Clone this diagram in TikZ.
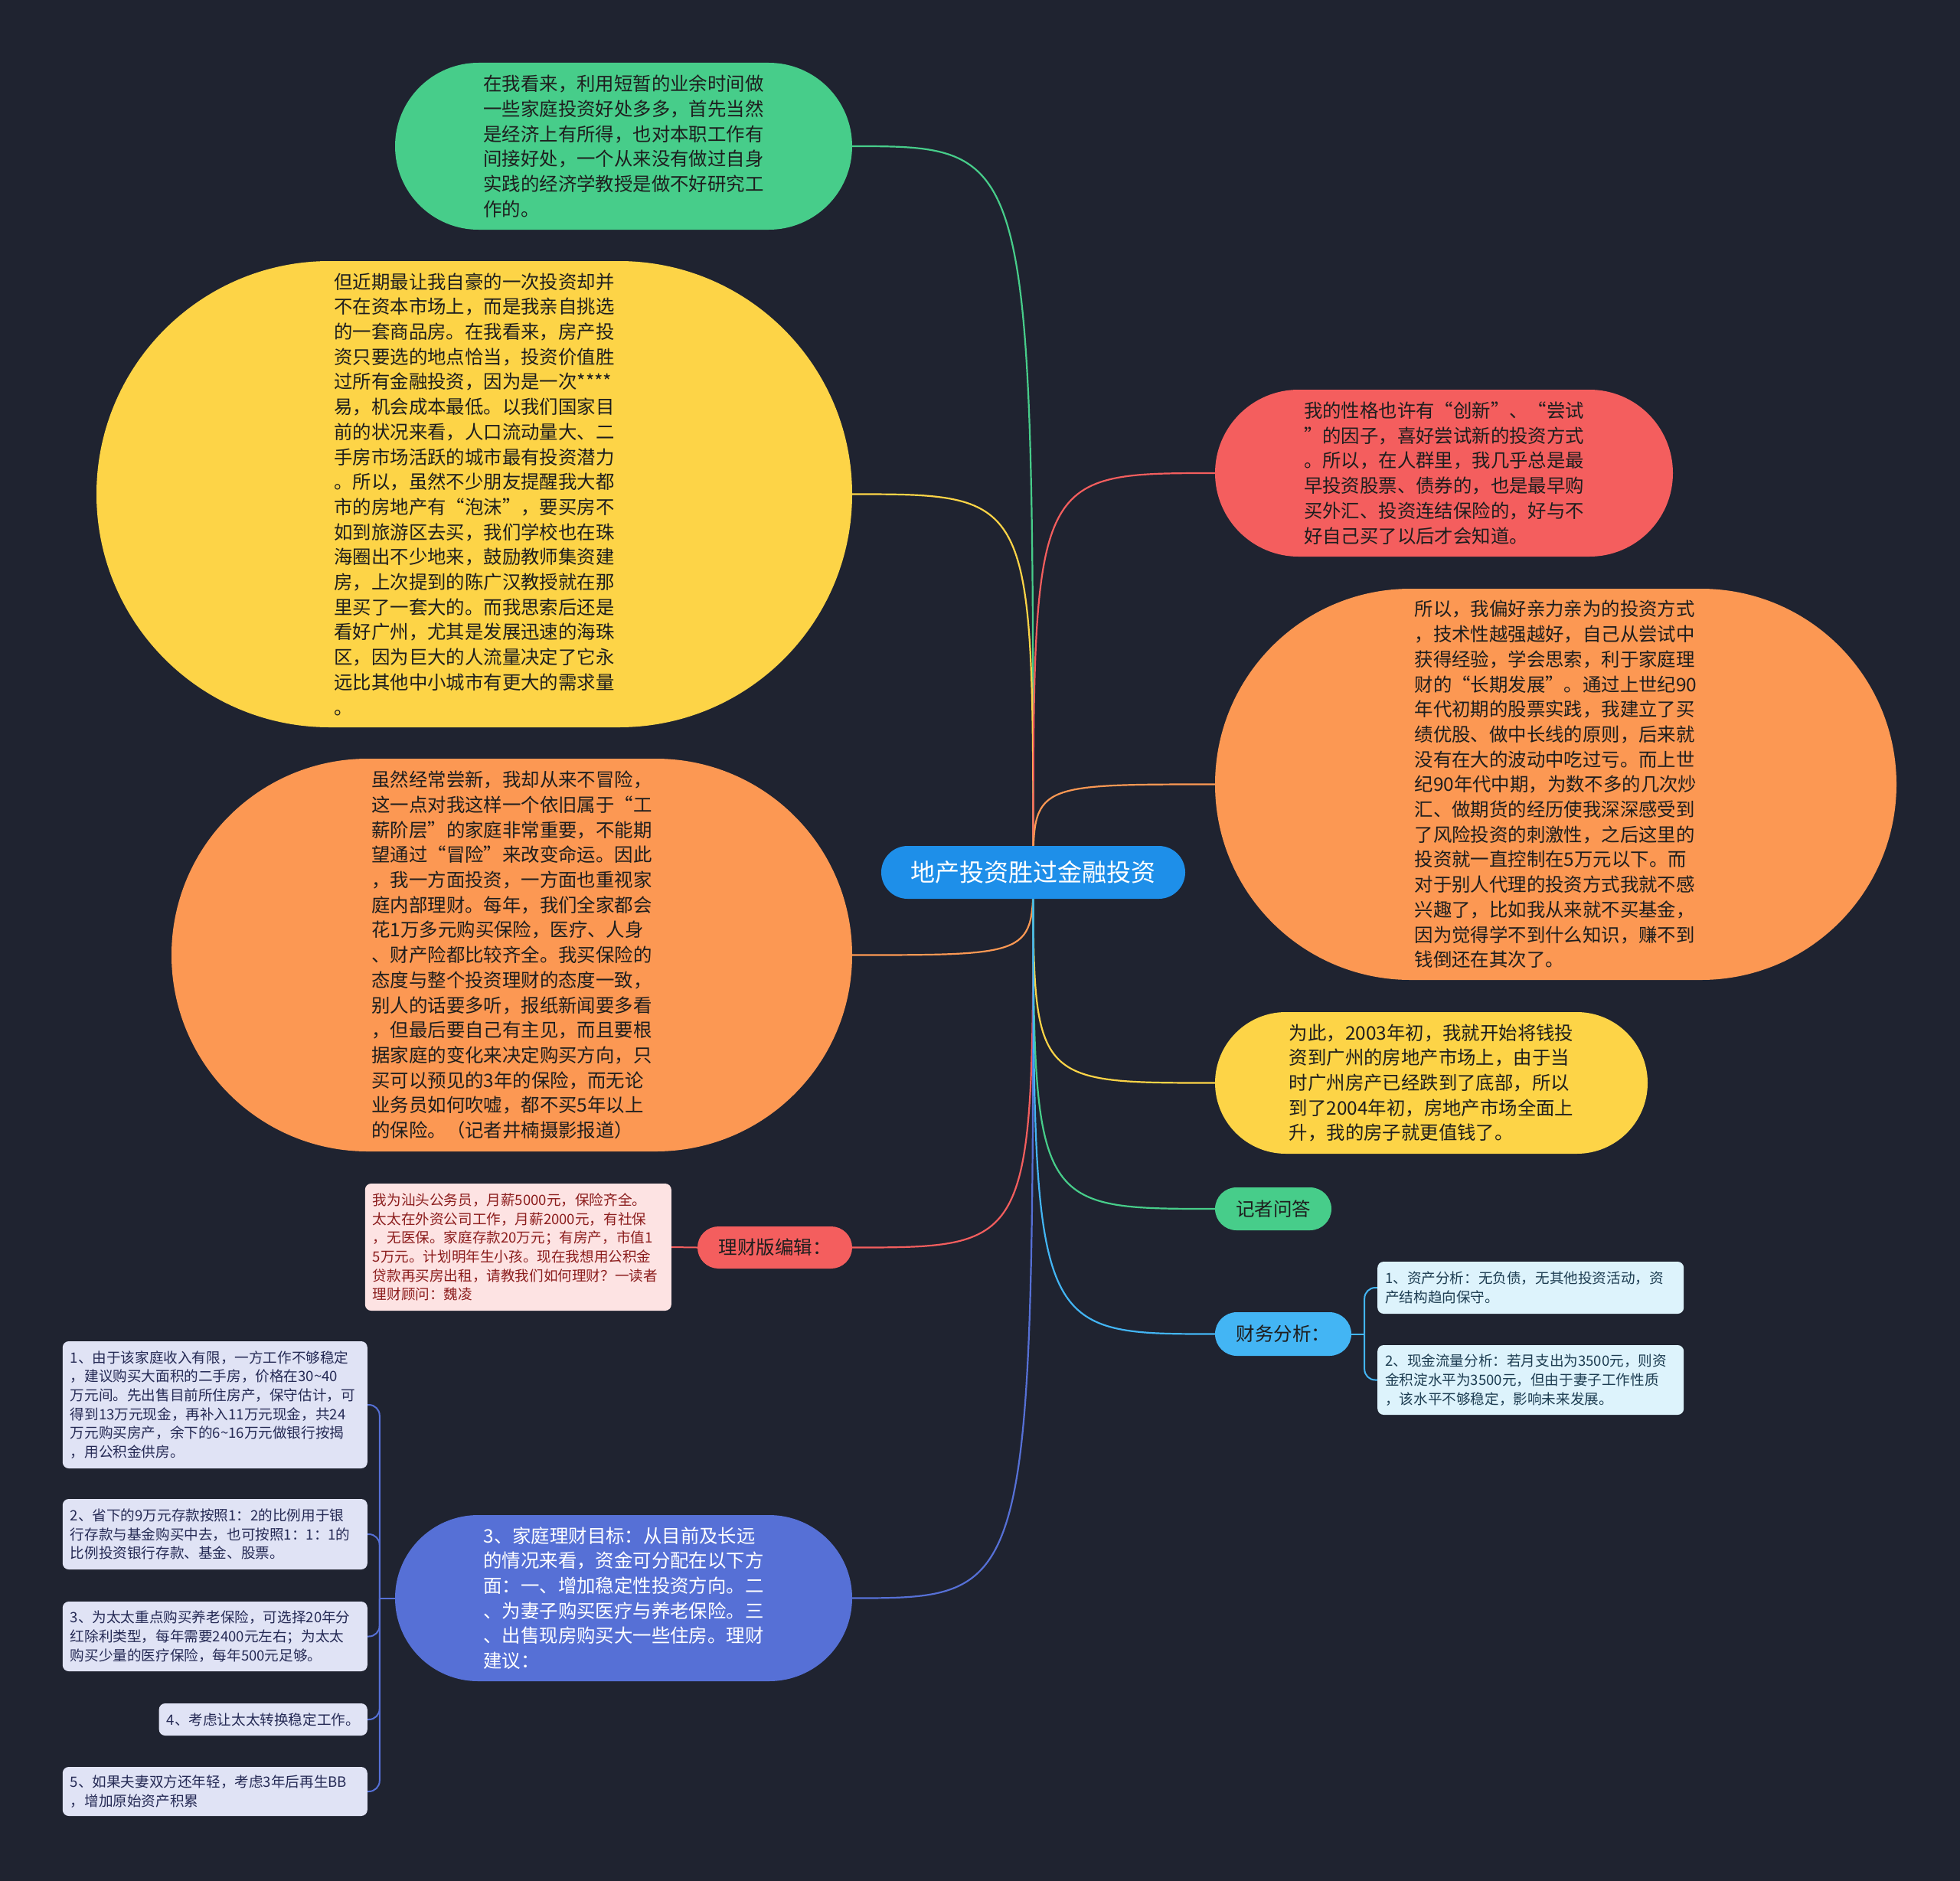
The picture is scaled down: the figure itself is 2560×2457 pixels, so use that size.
\documentclass[tikz,border=0pt]{standalone}
\usepackage{fontspec}
\setmainfont{Noto Sans CJK SC}
\usetikzlibrary{shapes.misc}
\pgfdeclarelayer{bg}
\pgfsetlayers{bg,main}
\definecolor{bgc}{HTML}{1F2330}
\definecolor{cblue}{HTML}{1E8FE9}
\definecolor{cgreen}{HTML}{47CD8A}
\definecolor{cyellow}{HTML}{FDD447}
\definecolor{corange}{HTML}{FC9853}
\definecolor{cred}{HTML}{F45E5E}
\definecolor{cindigo}{HTML}{5670D6}
\definecolor{csky}{HTML}{43B5F4}
\definecolor{txtdark}{HTML}{1E1E1E}
\definecolor{pinkfill}{HTML}{FDE3E3}
\definecolor{pinktxt}{HTML}{8C1D1D}
\definecolor{lavfill}{HTML}{E0E3F5}
\definecolor{lavtxt}{HTML}{252A55}
\definecolor{skyfill}{HTML}{DDF3FC}
\definecolor{skytxt}{HTML}{1D3D52}
\begin{document}
\begin{tikzpicture}[x=1pt,y=-1pt,
  pill/.style={rounded rectangle, inner sep=0pt, align=left, text=txtdark, font=\fontsize{24.4}{32.7}\selectfont},
  smallpill/.style={rounded rectangle, inner sep=0pt, text=txtdark, font=\fontsize{24.5}{30}\selectfont},
  box/.style={rectangle, rounded corners=8pt, inner xsep=10pt, inner ysep=0pt, align=left, font=\fontsize{18.6}{24.7}\selectfont},
  link/.style={line width=2.2pt},
  blink/.style={line width=2pt, rounded corners=14pt},
]
\useasboundingbox (0,0) rectangle (2560,2457);

% central
\node[rounded rectangle, inner sep=0pt, fill=cblue, text=white, minimum width=397pt, minimum height=69pt, font=\fontsize{32}{36}\selectfont] (ctr) at (1349.5,1139.5) {地产投资胜过金融投资};

% left side
\node[pill, fill=cgreen, minimum width=597pt, minimum height=218pt] (top) at (814.5,191) {在我看来，利用短暂的业余时间做\\一些家庭投资好处多多，首先当然\\是经济上有所得，也对本职工作有\\间接好处，一个从来没有做过自身\\实践的经济学教授是做不好研究工\\作的。};

\node[pill, fill=cyellow, minimum width=987pt, minimum height=609pt] (yl) at (619.5,645.5) {但近期最让我自豪的一次投资却并\\不在资本市场上，而是我亲自挑选\\的一套商品房。在我看来，房产投\\资只要选的地点恰当，投资价值胜\\过所有金融投资，因为是一次****\\易，机会成本最低。以我们国家目\\前的状况来看，人口流动量大、二\\手房市场活跃的城市最有投资潜力\\。所以，虽然不少朋友提醒我大都\\市的房地产有“泡沫”，要买房不\\如到旅游区去买，我们学校也在珠\\海圈出不少地来，鼓励教师集资建\\房，上次提到的陈广汉教授就在那\\里买了一套大的。而我思索后还是\\看好广州，尤其是发展迅速的海珠\\区，因为巨大的人流量决定了它永\\远比其他中小城市有更大的需求量\\。};

\node[pill, fill=corange, minimum width=889pt, minimum height=513pt] (ol) at (668.5,1247.5) {虽然经常尝新，我却从来不冒险，\\这一点对我这样一个依旧属于“工\\薪阶层”的家庭非常重要，不能期\\望通过“冒险”来改变命运。因此\\，我一方面投资，一方面也重视家\\庭内部理财。每年，我们全家都会\\花1万多元购买保险，医疗、人身\\、财产险都比较齐全。我买保险的\\态度与整个投资理财的态度一致，\\别人的话要多听，报纸新闻要多看\\，但最后要自己有主见，而且要根\\据家庭的变化来决定购买方向，只\\买可以预见的3年的保险，而无论\\业务员如何吹嘘，都不买5年以上\\的保险。（记者井楠摄影报道）};

\node[smallpill, fill=cred, minimum width=202pt, minimum height=55pt] (edit) at (1012,1629.5) {理财版编辑：};

\node[box, fill=pinkfill, text=pinktxt, text width=380pt, minimum height=166pt, anchor=east] (pink) at (877,1629) {我为汕头公务员，月薪5000元，保险齐全。\\太太在外资公司工作，月薪2000元，有社保\\，无医保。家庭存款20万元；有房产，市值1\\5万元。计划明年生小孩。现在我想用公积金\\贷款再买房出租，请教我们如何理财？一读者\\理财顾问：魏凌};

\node[pill, fill=cindigo, text=white, minimum width=597pt, minimum height=217pt] (goal) at (814.5,2087.5) {3、家庭理财目标：从目前及长远\\的情况来看，资金可分配在以下方\\面：一、增加稳定性投资方向。二\\、为妻子购买医疗与养老保险。三\\、出售现房购买大一些住房。理财\\建议：};

\node[box, fill=lavfill, text=lavtxt, text width=378pt, minimum height=166pt, anchor=east] (s1) at (480,1835) {1、由于该家庭收入有限，一方工作不够稳定\\，建议购买大面积的二手房，价格在30\textasciitilde40\\万元间。先出售目前所住房产，保守估计，可\\得到13万元现金，再补入11万元现金，共24\\万元购买房产，余下的6\textasciitilde16万元做银行按揭\\，用公积金供房。};
\node[box, fill=lavfill, text=lavtxt, text width=378pt, minimum height=92pt, anchor=east] (s2) at (480,2004) {2、省下的9万元存款按照1：2的比例用于银\\行存款与基金购买中去，也可按照1：1：1的\\比例投资银行存款、基金、股票。};
\node[box, fill=lavfill, text=lavtxt, text width=378pt, minimum height=91pt, anchor=east] (s3) at (480,2137.5) {3、为太太重点购买养老保险，可选择20年分\\红除利类型，每年需要2400元左右；为太太\\购买少量的医疗保险，每年500元足够。};
\node[box, fill=lavfill, text=lavtxt, minimum height=42pt, anchor=east] (s4) at (480,2246) {4、考虑让太太转换稳定工作。};
\node[box, fill=lavfill, text=lavtxt, text width=378pt, minimum height=64pt, anchor=east] (s5) at (480,2340) {5、如果夫妻双方还年轻，考虑3年后再生BB\\，增加原始资产积累};

% right side
\node[pill, fill=cred, minimum width=598pt, minimum height=218pt] (rr) at (1886,618) {我的性格也许有“创新”、“尝试\\”的因子，喜好尝试新的投资方式\\。所以，在人群里，我几乎总是最\\早投资股票、债券的，也是最早购\\买外汇、投资连结保险的，好与不\\好自己买了以后才会知道。};

\node[pill, fill=corange, minimum width=890pt, minimum height=511pt] (or) at (2032,1024.5) {所以，我偏好亲力亲为的投资方式\\，技术性越强越好，自己从尝试中\\获得经验，学会思索，利于家庭理\\财的“长期发展”。通过上世纪90\\年代初期的股票实践，我建立了买\\绩优股、做中长线的原则，后来就\\没有在大的波动中吃过亏。而上世\\纪90年代中期，为数不多的几次炒\\汇、做期货的经历使我深深感受到\\了风险投资的刺激性，之后这里的\\投资就一直控制在5万元以下。而\\对于别人代理的投资方式我就不感\\兴趣了，比如我从来就不买基金，\\因为觉得学不到什么知识，赚不到\\钱倒还在其次了。};

\node[pill, fill=cyellow, minimum width=565pt, minimum height=185pt] (yr) at (1869.5,1414.5) {为此，2003年初，我就开始将钱投\\资到广州的房地产市场上，由于当\\时广州房产已经跌到了底部，所以\\到了2004年初，房地产市场全面上\\升，我的房子就更值钱了。};

\node[smallpill, fill=cgreen, minimum width=152pt, minimum height=56pt] (qa) at (1663,1579) {记者问答};

\node[smallpill, fill=csky, minimum width=178pt, minimum height=57pt] (fin) at (1676,1742.5) {财务分析：};

\node[box, fill=skyfill, text=skytxt, text width=380pt, minimum height=68pt, anchor=west] (f1) at (1799,1682) {1、资产分析：无负债，无其他投资活动，资\\产结构趋向保守。};
\node[box, fill=skyfill, text=skytxt, text width=380pt, minimum height=91pt, anchor=west] (f2) at (1799,1802.5) {2、现金流量分析：若月支出为3500元，则资\\金积淀水平为3500元，但由于妻子工作性质\\，该水平不够稳定，影响未来发展。};

\begin{pgfonlayer}{bg}
\fill[bgc] (0,0) rectangle (2560,2457);
\draw[link, cgreen] (ctr.center) .. controls (ctr.center |- top.east) .. (top.east);
\draw[link, cyellow] (ctr.center) .. controls (ctr.center |- yl.east) .. (yl.east);
\draw[link, corange] (ctr.center) .. controls (ctr.center |- ol.east) .. (ol.east);
\draw[link, cred] (ctr.center) .. controls (ctr.center |- edit.east) .. (edit.east);
\draw[link, cindigo] (ctr.center) .. controls (ctr.center |- goal.east) .. (goal.east);
\draw[link, cred] (ctr.center) .. controls (ctr.center |- rr.west) .. (rr.west);
\draw[link, corange] (ctr.center) .. controls (ctr.center |- or.west) .. (or.west);
\draw[link, cyellow] (ctr.center) .. controls (ctr.center |- yr.west) .. (yr.west);
\draw[link, cgreen] (ctr.center) .. controls (ctr.center |- qa.west) .. (qa.west);
\draw[link, csky] (ctr.center) .. controls (ctr.center |- fin.west) .. (fin.west);
% editor to letter
\draw[line width=2pt, cred] (edit.west) -- (pink.east);
% goal bracket
\draw[line width=2pt, cindigo] (goal.west) -- ([xshift=-20pt]goal.west) coordinate (jg);
\foreach \s in {s1,s2,s3,s4,s5} \draw[blink, cindigo] (jg) |- (\s.east);
% finance bracket
\draw[line width=2pt, csky] (fin.east) -- ([xshift=17pt]fin.east) coordinate (jf);
\foreach \s in {f1,f2} \draw[blink, csky] (jf) |- (\s.west);
\end{pgfonlayer}
\end{tikzpicture}
\end{document}
